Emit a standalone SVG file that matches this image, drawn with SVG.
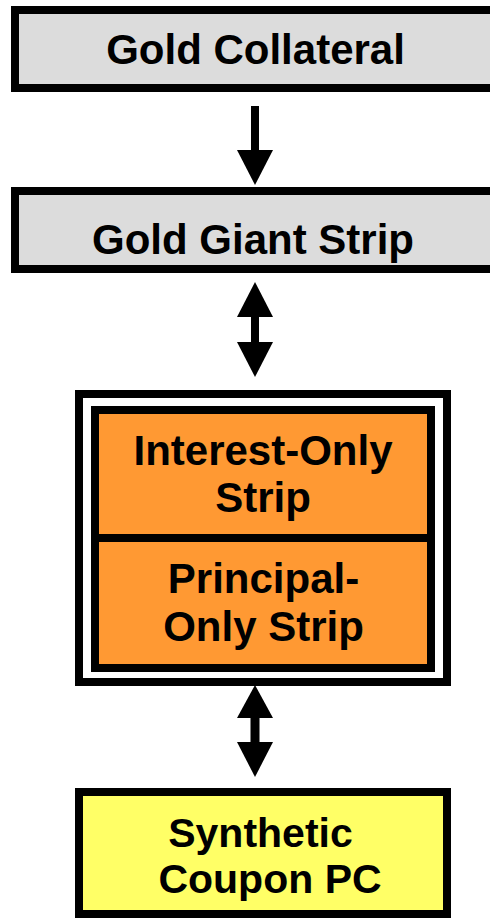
<svg xmlns="http://www.w3.org/2000/svg" width="490" height="923" viewBox="0 0 490 923">
<style>
.box{stroke:#000;stroke-width:8}
.gray{fill:#DCDCDC}
.orange{fill:#FF9933}
.yellow{fill:#FFFF66}
.lbl{font-family:"Liberation Sans",Arial,sans-serif;font-weight:bold;font-size:42px;fill:#000;text-anchor:middle}
.arr{fill:#000}
</style>
<rect width="490" height="923" fill="#fff"/>
<g id="gold-collateral">
<rect class="box gray" x="15" y="10" width="490" height="78"/>
<text class="lbl" x="255.5" y="64">Gold Collateral</text>
</g>
<g id="gold-giant-strip">
<rect class="box gray" x="15" y="191" width="490" height="78"/>
<text class="lbl" x="253" y="254">Gold Giant Strip</text>
</g>
<g id="strips">
<rect x="79" y="394" width="368" height="288" fill="#fff" stroke="#000" stroke-width="8"/>
<rect class="box orange" x="95" y="410" width="336" height="258"/>
<line x1="95" y1="538" x2="431" y2="538" stroke="#000" stroke-width="8"/>
<g id="interest-only-strip">
<text class="lbl" x="263" y="465">Interest-Only</text>
<text class="lbl" x="263" y="512">Strip</text>
</g>
<g id="principal-only-strip">
<text class="lbl" x="263.5" y="593">Principal-</text>
<text class="lbl" x="263.5" y="641">Only Strip</text>
</g>
</g>
<g id="synthetic-coupon-pc">
<rect class="box yellow" x="79" y="792" width="368" height="122"/>
<text class="lbl" x="260.5" y="847" font-size="41" style="font-size:41px">Synthetic</text>
<text class="lbl" x="270" y="893" style="font-size:41px">Coupon PC</text>
</g>
<g id="connectors">
<rect class="arr" x="251" y="106" width="8" height="45"/>
<polygon class="arr" points="237,150 273,150 255,185"/>
<polygon class="arr" points="255,282 237,317 273,317"/>
<rect class="arr" x="251" y="316" width="8" height="27"/>
<polygon class="arr" points="237,342 273,342 255,377"/>
<polygon class="arr" points="255,685 237,718 273,718"/>
<rect class="arr" x="250.5" y="717" width="9" height="26"/>
<polygon class="arr" points="237,742 273,742 255,777"/>
</g>
</svg>
